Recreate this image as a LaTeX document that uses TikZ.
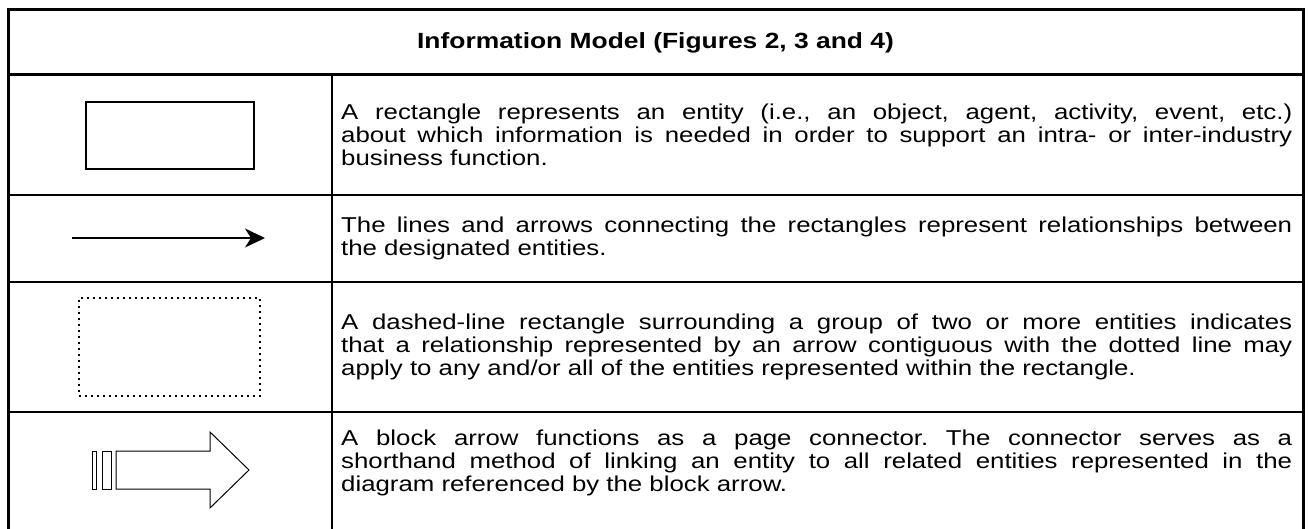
\documentclass[tikz,border=0pt]{standalone}
\usepackage{fontspec}
\setmainfont[FakeStretch=1.2]{Liberation Sans}
\usetikzlibrary{arrows.meta,positioning}

\tikzset{
  frame/.style={line width=3pt},
  grid/.style={line width=1.8pt},
  desc/.style={anchor=west, inner sep=0pt, align=justify, text width=951pt,
    font=\fontsize{21.5}{23}\selectfont\frenchspacing},
  entity/.style={draw, line width=2pt, minimum width=168pt, minimum height=67pt, inner sep=0pt},
  group/.style={draw, line width=2.2pt, dash pattern=on 2pt off 4pt, minimum width=181pt, minimum height=98pt, inner sep=0pt},
  blockarr/.style={draw, line width=1pt},
}

\begin{document}
\begin{tikzpicture}[x=1pt,y=-1pt]
  \useasboundingbox (0,0) rectangle (1308,529);

  % table
  \draw[frame] (8,531) -- (8,10) -- (1303,10) -- (1303,531);
  \draw[frame] (8,75) -- (1303,75);
  \draw[grid] (332,75) -- (332,531);
  \draw[grid] (8,195) -- (1303,195);
  \draw[grid] (8,282) -- (1303,282);
  \draw[grid] (8,412) -- (1303,412);

  \node[font=\fontsize{22}{23}\selectfont\bfseries] (title) at (655.5,43)
    {Information Model (Figures 2, 3 and 4)};

  % entity
  \node[entity] (ent) at (169.5,135.5) {};
  \node[desc] (entdesc) at (341,135) {%
    A rectangle represents an entity (i.e., an object, agent, activity, event, etc.)\linebreak
    about which information is needed in order to support an intra- or inter-industry\linebreak
    business function.};

  % relationship
  \coordinate (relA) at (72,238);
  \coordinate (relB) at (265,238);
  \draw[line width=1.2pt, -{Stealth[length=20pt,width=19pt,inset=6pt]}] (relA) -- (relB);
  \node[desc] (reldesc) at (341,238.5) {%
    The lines and arrows connecting the rectangles represent relationships between\linebreak
    the designated entities.};

  % group
  \node[group] (grp) at (169.5,347) {};
  \node[desc] (grpdesc) at (341,347) {%
    A dashed-line rectangle surrounding a group of two or more entities indicates\linebreak
    that a relationship represented by an arrow contiguous with the dotted line may\linebreak
    apply to any and/or all of the entities represented within the rectangle.};

  % page connector
  \draw[blockarr] (92,451) rectangle (96,489);
  \draw[blockarr] (102,451) rectangle (111,489);
  \draw[blockarr] (116,451) -- (210,451) -- (210,432) -- (249,470)
    -- (210,508) -- (210,489) -- (116,489) -- cycle;
  \node[desc] (condesc) at (341,463) {%
    A block arrow functions as a page connector. The connector serves as a\linebreak
    shorthand method of linking an entity to all related entities represented in the\linebreak
    diagram referenced by the block arrow.};
\end{tikzpicture}
\end{document}
